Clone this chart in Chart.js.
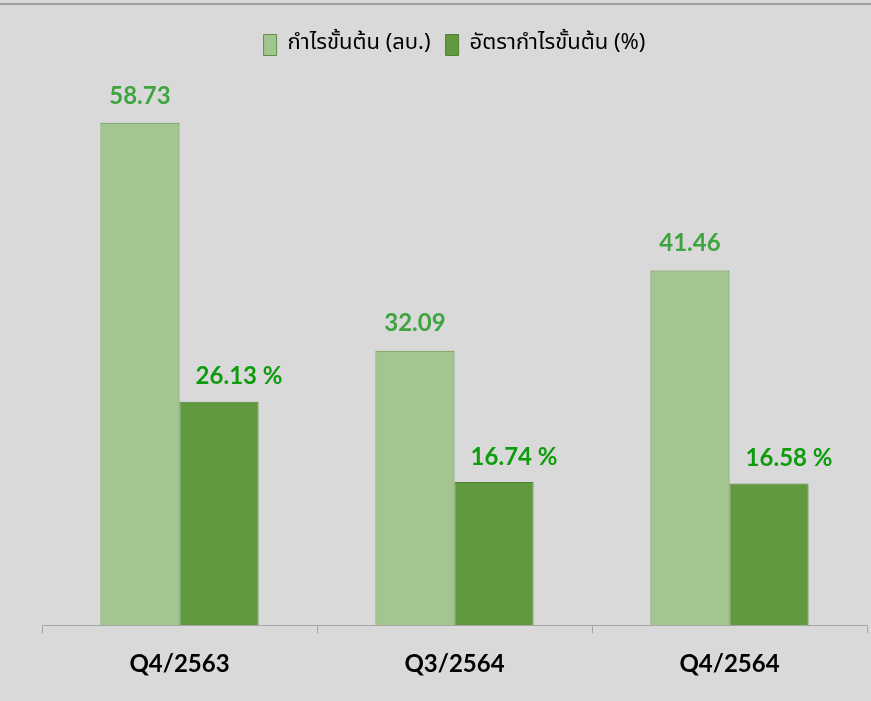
<!DOCTYPE html>
<html>
<head>
<meta charset="utf-8">
<script src="https://cdn.jsdelivr.net/npm/chart.js@4"></script>
<style>
  html, body { margin: 0; padding: 0; background: #d9d9d9; }
  canvas { display: block; }
</style>
</head>
<body>
<canvas id="grafico" width="871" height="701"></canvas>
<script>
const categorias = ["Q4/2563", "Q3/2564", "Q4/2564"]
const lucroBruto = [58.73, 32.09, 41.46]
const margemBruta = [26.13, 16.74, 16.58]
const nomesSeries = ["กำไรขั้นต้น (ลบ.)", "อัตรากำไรขั้นต้น (%)"]

const fonteThai = "'Noto Sans Thai', 'Noto Sans', 'DejaVu Sans', sans-serif"
const fonteNum = "Lato, 'Open Sans', sans-serif"

// fundo + linha cinza no topo
const fundo = {
    id: "fundo",
    beforeDraw(chart) {
        const c = chart.ctx
        c.save()
        c.fillStyle = "#d9d9d9"
        c.fillRect(0, 0, chart.width, chart.height)
        c.fillStyle = "#a0a0a0"
        c.fillRect(0, 3, chart.width, 2)
        c.restore()
    }
}

// rótulos de valor acima das barras
const rotulos = {
    id: "rotulos",
    afterDatasetsDraw(chart) {
        const c = chart.ctx
        c.save()
        c.font = `bold 24px ${fonteNum}`
        c.textAlign = "center"
        c.textBaseline = "middle"
        chart.data.datasets.forEach((ds, i) => {
            const meta = chart.getDatasetMeta(i)
            meta.data.forEach((bar, j) => {
                const v = ds.data[j]
                if (i === 0) {
                    c.fillStyle = "#3fa43f"
                    c.fillText(v.toFixed(2), bar.x, bar.y - 27)
                } else {
                    c.fillStyle = "#0e9c0e"
                    c.fillText(v.toFixed(2) + " %", bar.x + 20, bar.y - 25)
                }
            })
        })
        c.restore()
    }
}

new Chart(document.getElementById("grafico"), {
    type: "bar",
    data: {
        labels: categorias,
        datasets: [
            {
                label: nomesSeries[0],
                data: lucroBruto,
                backgroundColor: "#a3c690",
                borderColor: "#5f913f",
                borderWidth: 1,
                borderSkipped: "bottom"
            },
            {
                label: nomesSeries[1],
                data: margemBruta,
                backgroundColor: "#619a3e",
                borderColor: "#4f8231",
                borderWidth: 1,
                borderSkipped: "bottom"
            }
        ]
    },
    options: {
        responsive: false,
        animation: false,
        categoryPercentage: 0.575,
        barPercentage: 1,
        layout: { padding: { left: 42, right: 4, top: 19, bottom: 5 } },
        plugins: {
            legend: {
                position: "top",
                labels: {
                    boxWidth: 13,
                    boxHeight: 21,
                    padding: 15,
                    color: "#000",
                    font: { size: 22, family: fonteThai }
                }
            },
            // só um espaço entre a legenda e as barras
            subtitle: {
                display: true,
                text: " ",
                weight: 500,
                font: { size: 1 },
                padding: { top: 0, bottom: 2 }
            },
            tooltip: { enabled: false }
        },
        scales: {
            x: {
                grid: {
                    offset: true,
                    drawOnChartArea: false,
                    drawTicks: true,
                    tickLength: 8,
                    color: "#a6a6a6"
                },
                border: { display: true, color: "#a6a6a6" },
                ticks: {
                    color: "#000",
                    padding: 17,
                    font: { size: 24, weight: "bold", family: fonteNum }
                }
            },
            y: {
                display: false,
                min: 0,
                max: 65
            }
        }
    },
    plugins: [fundo, rotulos]
})
</script>
</body>
</html>
